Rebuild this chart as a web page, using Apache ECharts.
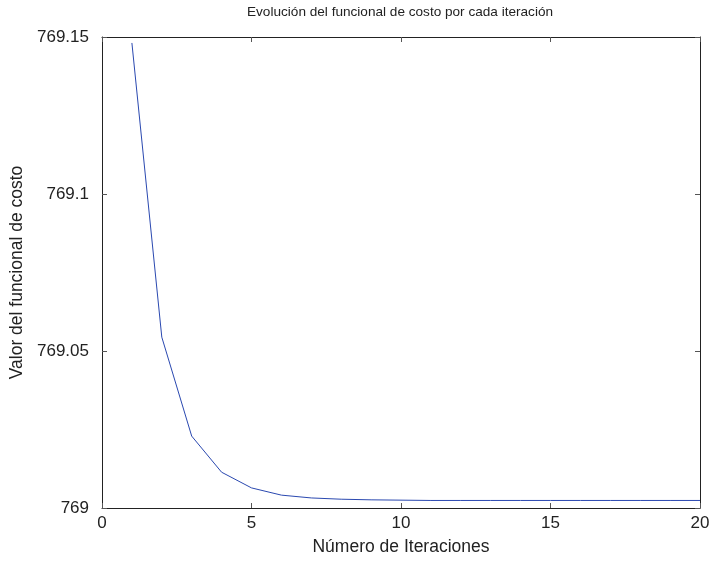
<!DOCTYPE html>
<html>
<head>
<meta charset="utf-8">
<script src="https://cdn.jsdelivr.net/npm/echarts@6/dist/echarts.min.js"></script>
<style>
  html, body { margin: 0; padding: 0; background: #fff; }
  #chart { width: 714px; height: 562px; }
</style>
</head>
<body>
<div id="chart"></div>
<script>
// Iteration numbers and cost functional value at each iteration
const iterations = [1, 2, 3, 4, 5, 6, 7, 8, 9, 10, 11, 12, 13, 14, 15, 16, 17, 18, 19, 20];
const costValues = [
  769.1481, 769.0544, 769.0229, 769.0114, 769.0064, 769.0041, 769.0032, 769.0028,
  769.0026, 769.0025, 769.0024, 769.0024, 769.0024, 769.0024, 769.0024, 769.0024,
  769.0024, 769.0024, 769.0024, 769.0024
];
const yTickLabels = { '769': '769', '769.05': '769.05', '769.1': '769.1', '769.15': '769.15' };

const chart = echarts.init(document.getElementById('chart'), null, { renderer: 'canvas' });
const font = 'Liberation Sans, Arial, Helvetica, sans-serif';
const axisColor = '#222';

const fmtY = v => {
  const key = String(Math.round(v * 100) / 100);
  return yTickLabels[key] !== undefined ? yTickLabels[key] : key;
};

const baseX = {
  type: 'value', min: 0, max: 20, interval: 5,
  axisLine: { show: true, onZero: false, lineStyle: { color: axisColor, width: 1 } },
  axisTick: { show: true, inside: true, length: 5, lineStyle: { color: '#555' } },
  splitLine: { show: false }
};
const baseY = {
  type: 'value', min: 769, max: 769.15, interval: 0.05,
  axisLine: { show: true, onZero: false, lineStyle: { color: axisColor, width: 1 } },
  axisTick: { show: true, inside: true, length: 5, lineStyle: { color: '#555' } },
  splitLine: { show: false }
};

chart.setOption({
  animation: false,
  backgroundColor: '#fff',
  title: {
    text: 'Evolución del funcional de costo por cada iteración',
    left: 247, top: 5, padding: 0,
    textStyle: { fontFamily: font, fontSize: 13.6, fontWeight: 'normal', color: '#222' }
  },
  grid: { left: 102, right: 14, top: 37, bottom: 54 },
  xAxis: [
    Object.assign({}, baseX, {
      position: 'bottom',
      name: 'Número de Iteraciones', nameLocation: 'middle', nameGap: 30,
      nameTextStyle: { fontFamily: font, fontSize: 17.5, color: '#222' },
      axisLabel: { fontFamily: font, fontSize: 17, color: '#222', margin: 7 }
    }),
    Object.assign({}, baseX, { position: 'top', axisLabel: { show: false } })
  ],
  yAxis: [
    Object.assign({}, baseY, {
      position: 'left',
      name: 'Valor del funcional de costo', nameLocation: 'middle', nameGap: 74,
      nameTextStyle: { fontFamily: font, fontSize: 17.5, color: '#222' },
      axisLabel: { fontFamily: font, fontSize: 17, color: '#222', margin: 13, formatter: fmtY }
    }),
    Object.assign({}, baseY, { position: 'right', axisLabel: { show: false } })
  ],
  series: [{
    type: 'line',
    data: iterations.map((it, i) => [it, costValues[i]]),
    showSymbol: false,
    lineStyle: { color: '#2a48b0', width: 1 },
    xAxisIndex: 0, yAxisIndex: 0
  }]
});
</script>
</body>
</html>
